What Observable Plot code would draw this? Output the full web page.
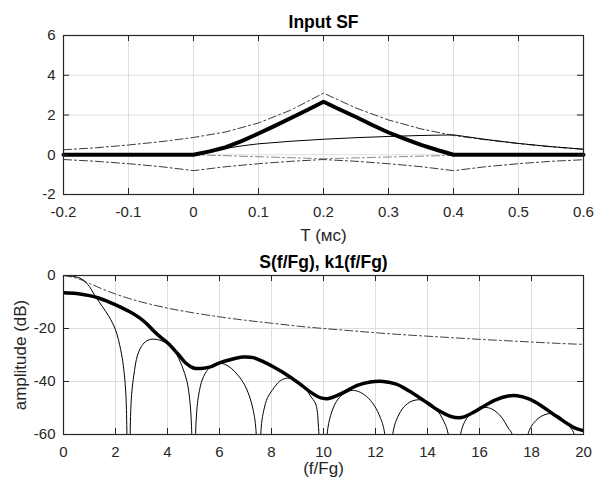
<!DOCTYPE html>
<html><head><meta charset="utf-8">
<script src="https://cdn.jsdelivr.net/npm/d3@7"></script>
<script src="https://cdn.jsdelivr.net/npm/@observablehq/plot@0.6"></script>
<style>
body{margin:0;background:#fff;}
#chart{width:594px;}
#chart svg{display:block;}
</style></head><body><div id="chart"></div>
<script>
// ---------- Top panel: Input SF ----------
const topTitle = "Input SF";
const topXLabel = "T (мс)";
const topXTicks = [-0.2, -0.1, 0, 0.1, 0.2, 0.3, 0.4, 0.5, 0.6];
const topXTickLabels = ["-0.2", "-0.1", "0", "0.1", "0.2", "0.3", "0.4", "0.5", "0.6"];
const topYTicks = [-2, 0, 2, 4, 6];
const topYTickLabels = ["-2", "0", "2", "4", "6"];

const sfThick = [[-0.2,0],[0,0],[0.025,0.17],[0.05,0.38],[0.075,0.7],[0.1,1.07],[0.125,1.45],[0.15,1.85],[0.175,2.25],[0.2,2.67],
  [0.225,2.28],[0.25,1.9],[0.275,1.5],[0.3,1.12],[0.325,0.8],[0.35,0.5],[0.375,0.24],[0.4,0],[0.6,0]];
const sfThin = [[-0.2,0],[0,0],[0.025,0.17],[0.05,0.32],[0.075,0.45],[0.1,0.55],[0.15,0.68],[0.2,0.78],[0.25,0.86],[0.3,0.92],
  [0.35,0.97],[0.4,1.0],[0.45,0.77],[0.5,0.57],[0.55,0.41],[0.6,0.28]];
const sfUpper = [[-0.2,0.25],[-0.15,0.35],[-0.1,0.49],[-0.05,0.66],[0,0.87],[0.05,1.15],[0.1,1.6],[0.15,2.25],[0.2,3.1],
  [0.25,2.35],[0.3,1.75],[0.35,1.3],[0.4,0.97],[0.45,0.75],[0.5,0.56],[0.55,0.4],[0.6,0.27]];
const sfLower = [[-0.2,-0.24],[-0.15,-0.33],[-0.1,-0.45],[-0.05,-0.6],[0,-0.8],[0.05,-0.6],[0.1,-0.45],[0.15,-0.33],[0.2,-0.24],
  [0.25,-0.33],[0.3,-0.45],[0.35,-0.6],[0.4,-0.8],[0.45,-0.6],[0.5,-0.45],[0.55,-0.33],[0.6,-0.25]];
const sfGray = [[-0.2,0],[0,0],[0.2,-0.2],[0.4,-0.03],[0.6,0]];

// ---------- Bottom panel: S(f/Fg), k1(f/Fg) ----------
const botTitle = "S(f/Fg), k1(f/Fg)";
const botXLabel = "(f/Fg)";
const botYLabel = "amplitude (dB)";
const botXTicks = [0, 2, 4, 6, 8, 10, 12, 14, 16, 18, 20];
const botXTickLabels = ["0","2","4","6","8","10","12","14","16","18","20"];
const botYTicks = [-60, -40, -20, 0];
const botYTickLabels = ["-60", "-40", "-20", "0"];

const k1Dash = [[0,0],[0.5,-1],[1,-3],[1.5,-5.1],[2,-7],[2.5,-8.6],[3,-10],[4,-12.3],[5,-14.1],[6,-15.6],[7,-16.9],[8,-18],
  [9,-19.1],[10,-20],[11,-20.8],[12,-21.6],[13,-22.3],[14,-22.9],[15,-23.5],[16,-24.1],[17,-24.6],[18,-25.1],[19,-25.6],[20,-26]];
const sThin = [
  [0,0],[0.35,-0.3],[0.7,-1.3],[1.0,-4.2],[1.2,-7.5],[1.5,-11.8],[1.75,-15.5],[2.0,-20.5],[2.2,-28],[2.3,-34],[2.4,-45],[2.5,-100],
  [2.6,-48],[2.7,-38],[2.85,-30],[3.05,-26],[3.25,-24.4],[3.45,-24],[3.7,-24.4],[4.0,-25.8],[4.3,-29],[4.55,-34],[4.75,-40],[4.85,-46.5],[4.92,-56],[5.0,-100],
  [5.1,-55],[5.2,-45],[5.35,-39],[5.55,-35.5],[5.75,-33.6],[5.95,-33],[6.2,-33.5],[6.45,-35],[6.7,-37.5],[6.95,-41],[7.15,-45.5],[7.3,-51],[7.4,-58],[7.5,-100],
  [7.6,-58],[7.7,-51],[7.85,-46],[8.05,-43],[8.3,-40],[8.55,-38.8],[8.8,-39],[9.05,-40.3],[9.3,-42.5],[9.5,-45.5],[9.7,-48.5],[9.82,-59],[10,-100],
  [10.15,-59],[10.3,-52],[10.5,-47.5],[10.75,-44.8],[11.05,-43.4],[11.35,-43.8],[11.65,-45.6],[11.95,-49],[12.2,-54],[12.35,-59.5],[12.5,-100],
  [12.67,-59.5],[12.85,-53.5],[13.1,-49.5],[13.4,-47.4],[13.73,-46.9],[14.05,-47.8],[14.35,-50.5],[14.6,-54.5],[14.8,-60],[15,-100],
  [15.27,-60],[15.5,-54],[15.8,-51],[16.17,-49.75],[16.5,-50.5],[16.85,-53.5],[17.1,-57.5],[17.26,-60],[17.5,-100],
  [17.86,-60],[18.1,-55.5],[18.4,-53],[18.73,-52.1],[19.05,-53],[19.35,-55.8],[19.65,-60],[20,-100]];
const sThick = [[0,-6.5],[0.5,-6.8],[1.0,-7.6],[1.35,-8.5],[1.65,-9.6],[2.0,-11.1],[2.25,-12.2],[2.55,-13.7],[2.9,-15.8],[3.2,-18.2],
  [3.5,-21.2],[3.8,-23.8],[4.0,-25.4],[4.4,-29.6],[4.7,-33],[5.0,-34.9],[5.3,-35.1],[5.65,-34.5],[6.0,-33],[6.4,-31.8],[6.9,-30.8],
  [7.3,-31],[7.7,-32.6],[8.1,-34.6],[8.45,-36.6],[9.05,-40.6],[9.5,-44],[9.9,-46.2],[10.2,-46.4],[10.7,-44.5],[11.3,-41.5],[11.8,-40.2],
  [12.3,-40],[12.8,-41],[13.3,-43.6],[13.9,-47.5],[14.4,-50.8],[14.9,-53.2],[15.3,-53.6],[15.7,-52],[16.1,-49.7],[16.6,-47],[17.1,-45.5],
  [17.45,-45.4],[17.9,-46.6],[18.4,-49.3],[18.9,-52.8],[19.4,-56],[19.7,-57.7],[20,-58.5]];

// ---------- drawing ----------
const FONT = "'Liberation Sans', Arial, Helvetica, sans-serif";
const INK = "#262626";
const GRID = "#dedede";
const DASHDOT = "8,3,2,3";

function panel(o) {
  const W = 594, ml = 63, mr = 11, tl = 6;
  const fh = o.height - o.mt - o.mb, fw = W - ml - mr;
  const xf = d => o.xTickLabels[o.xTicks.indexOf(d)];
  const yf = d => o.yTickLabels[o.yTicks.indexOf(d)];
  const marks = [
    Plot.gridX(o.xTicks, {stroke: GRID, strokeOpacity: 1}),
    Plot.gridY(o.yTicks, {stroke: GRID, strokeOpacity: 1}),
    ...o.marks,
    Plot.tickX(o.xTicks, {x: d => d, insetTop: fh - tl, stroke: INK}),
    Plot.tickX(o.xTicks, {x: d => d, insetBottom: fh - tl, stroke: INK}),
    Plot.tickY(o.yTicks, {y: d => d, insetRight: fw - tl, stroke: INK}),
    Plot.tickY(o.yTicks, {y: d => d, insetLeft: fw - tl, stroke: INK}),
    Plot.frame({stroke: INK, strokeWidth: 1.2}),
    Plot.axisX(o.xTicks, {tickSize: 0, tickPadding: 12, tickFormat: xf, label: null, fontSize: 15, color: INK}),
    Plot.axisY(o.yTicks, {tickSize: 0, tickPadding: 8, tickFormat: yf, label: null, fontSize: 15, color: INK}),
    Plot.text([o.title], {text: d => d, frameAnchor: "top", dy: o.titleDy, lineAnchor: "bottom", fontWeight: "bold", fontSize: 17.5, fill: "#000"}),
    Plot.text([o.xLabel], {text: d => d, frameAnchor: "bottom", dy: o.xLabelDy, lineAnchor: "bottom", fontSize: 17, fill: INK})
  ];
  if (o.yLabel) marks.push(Plot.text([o.yLabel], {
    text: d => d,
    x: () => o.xDomain[0],
    y: () => (o.yDomain[0] + o.yDomain[1]) / 2,
    dx: -43, rotate: -90, lineAnchor: "middle", textAnchor: "middle", fontSize: 17, fill: INK
  }));
  return Plot.plot({
    width: W, height: o.height, marginLeft: ml, marginRight: mr, marginTop: o.mt, marginBottom: o.mb,
    style: {fontFamily: FONT, background: "#fff", overflow: "visible"},
    x: {domain: o.xDomain}, y: {domain: o.yDomain},
    marks
  });
}

const topPanel = panel({
  height: 242, mt: 35, mb: 48, titleDy: -7.5, xLabelDy: 46,
  xDomain: [-0.2, 0.6], yDomain: [-2, 6],
  xTicks: topXTicks, xTickLabels: topXTickLabels, yTicks: topYTicks, yTickLabels: topYTickLabels,
  title: topTitle, xLabel: topXLabel,
  marks: [
    Plot.line(sfGray, {x: d => d[0], y: d => d[1], stroke: "#8a8a8a", strokeWidth: 1, strokeDasharray: DASHDOT}),
    Plot.line(sfLower, {x: d => d[0], y: d => d[1], stroke: "#3a3a3a", strokeWidth: 1, strokeDasharray: DASHDOT}),
    Plot.line(sfUpper, {x: d => d[0], y: d => d[1], stroke: "#3a3a3a", strokeWidth: 1, strokeDasharray: DASHDOT}),
    Plot.line(sfThin, {x: d => d[0], y: d => d[1], stroke: "#000", strokeWidth: 1}),
    Plot.line(sfThick, {x: d => d[0], y: d => d[1], stroke: "#000", strokeWidth: 4})
  ]
});

const bottomPanel = panel({
  height: 242, mt: 33, mb: 50, titleDy: -7.5, xLabelDy: 39,
  xDomain: [0, 20], yDomain: [-60, 0],
  xTicks: botXTicks, xTickLabels: botXTickLabels, yTicks: botYTicks, yTickLabels: botYTickLabels,
  title: botTitle, xLabel: botXLabel, yLabel: botYLabel,
  marks: [
    Plot.line(k1Dash, {x: d => d[0], y: d => d[1], stroke: "#3a3a3a", strokeWidth: 1, strokeDasharray: DASHDOT, curve: "catmull-rom", clip: true}),
    Plot.line(sThin, {x: d => d[0], y: d => d[1], stroke: "#000", strokeWidth: 1, curve: "catmull-rom", clip: true}),
    Plot.line(sThick, {x: d => d[0], y: d => d[1], stroke: "#000", strokeWidth: 3.5, curve: "catmull-rom", clip: true})
  ]
});

const chart = document.getElementById("chart");
chart.appendChild(topPanel);
chart.appendChild(bottomPanel);
</script>
</body></html>
